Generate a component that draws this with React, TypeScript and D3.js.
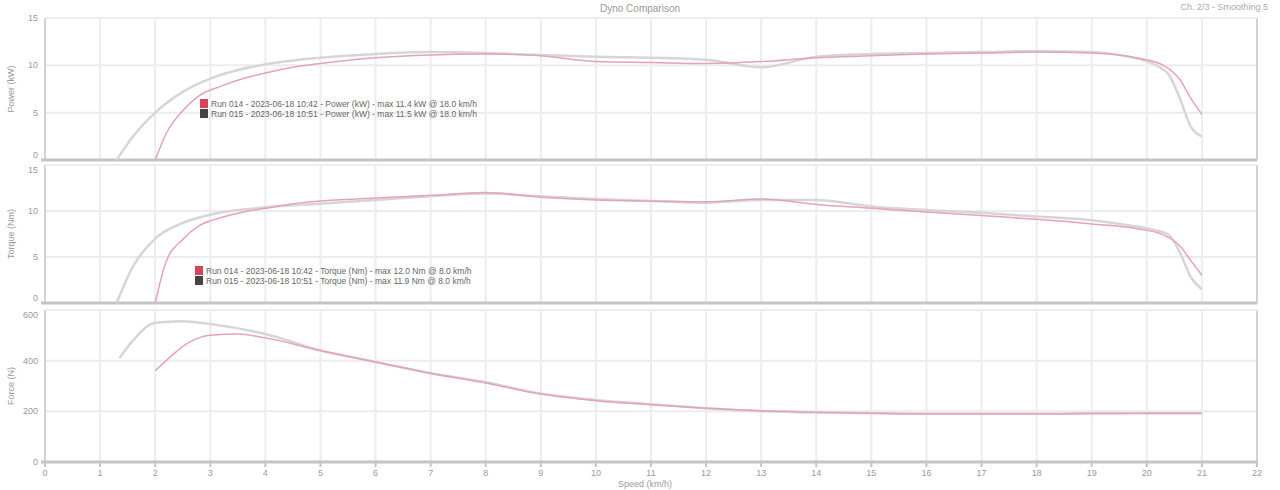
import React from 'react'
import * as d3 from 'd3'

const W = 1280
const H = 490

// x axis: road speed, km/h
const speedTicks = d3.range(0, 23, 1)

// run A (red)
const runASpeed = [2.0, 2.2, 2.5, 2.8, 3.2, 3.6, 4, 4.5, 5, 6, 7, 8, 9, 10, 11, 12, 13, 14, 15, 16, 17, 18, 19, 19.8, 20.3, 20.6, 20.8, 21.0]
const runAPower = [0, 2.8, 5.2, 6.8, 7.8, 8.6, 9.2, 9.8, 10.2, 10.8, 11.1, 11.2, 11.0, 10.4, 10.3, 10.2, 10.4, 10.8, 11.0, 11.2, 11.3, 11.4, 11.3, 10.8, 10.0, 8.5, 6.5, 4.8]
const runATorque = [0, 4.5, 6.9, 8.4, 9.3, 9.9, 10.3, 10.8, 11.1, 11.4, 11.7, 12.0, 11.5, 11.2, 11.1, 11.0, 11.3, 10.7, 10.3, 9.9, 9.5, 9.1, 8.6, 8.1, 7.4, 6.2, 4.6, 3.0]
const runAForceSpeed = [2.0, 2.3, 2.6, 3.0, 3.5, 4, 5, 6, 7, 8, 9, 10, 11, 12, 13, 14, 15, 16, 17, 18, 19, 20, 21]
const runAForce = [360, 420, 470, 500, 505, 490, 440, 395, 350, 312, 268, 242, 226, 212, 202, 196, 193, 190, 190, 190, 191, 192, 192]

// run B (grey)
const runBSpeed = [1.3, 1.6, 2, 2.5, 3, 3.5, 4, 5, 6, 7, 8, 9, 10, 11, 12, 13, 14, 15, 16, 17, 18, 19, 19.6, 20.1, 20.4, 20.6, 20.8, 21.0]
const runBPower = [0, 2.5, 5, 7.2, 8.6, 9.5, 10.1, 10.8, 11.2, 11.4, 11.3, 11.1, 10.9, 10.8, 10.6, 9.8, 10.9, 11.2, 11.3, 11.4, 11.5, 11.4, 11.0, 10.2, 9.0, 6.5, 3.5, 2.5]
const runBTorque = [0, 4, 7, 8.7, 9.6, 10.1, 10.4, 10.8, 11.2, 11.6, 11.9, 11.6, 11.3, 11.1, 10.9, 11.2, 11.2, 10.5, 10.1, 9.8, 9.4, 9.0, 8.5, 8.0, 7.4, 5.5, 2.8, 1.5]
const runBForceSpeed = [1.35, 1.6, 2, 2.5, 3, 4, 5, 6, 7, 8, 9, 10, 11, 12, 13, 14, 15, 16, 17, 18, 19, 20, 21]
const runBForce = [410, 480, 550, 556, 545, 505, 440, 395, 350, 315, 270, 245, 228, 212, 200, 195, 192, 190, 190, 190, 192, 192, 192]

const powerTicks = [0, 5, 10, 15]
const torqueTicks = [0, 5, 10, 15]
const forceTicks = [0, 200, 400, 600]

const legendPower = [
  'Run 014 - 2023-06-18 10:42 - Power (kW) - max 11.4 kW @ 18.0 km/h',
  'Run 015 - 2023-06-18 10:51 - Power (kW) - max 11.5 kW @ 18.0 km/h',
]
const legendTorque = [
  'Run 014 - 2023-06-18 10:42 - Torque (Nm) - max 12.0 Nm @ 8.0 km/h',
  'Run 015 - 2023-06-18 10:51 - Torque (Nm) - max 11.9 Nm @ 8.0 km/h',
]

const RED = '#e6a3b0'
const GREY = '#d6d6d6'
const font = '"Liberation Sans", Arial, sans-serif'

const x = d3.scaleLinear().domain([0, 22]).range([45, 1257])

type Panel = {
  top: number
  bottom: number
  domain: [number, number]
  ticks: number[]
  label: string
  first: boolean
  last: boolean
}

const panels: Panel[] = [
  { top: 18, bottom: 160, domain: [0, 15], ticks: powerTicks, label: 'Power (kW)', first: true, last: false },
  { top: 165, bottom: 303, domain: [0, 15], ticks: torqueTicks, label: 'Torque (Nm)', first: false, last: false },
  { top: 310, bottom: 462, domain: [0, 600], ticks: forceTicks, label: 'Force (N)', first: false, last: true },
]

const toPts = (xs: number[], ys: number[]) => xs.map((s, i) => [s, ys[i]] as [number, number])

const PanelView = ({ p, series, legend, legendX, legendY }: {
  p: Panel
  series: { pts: [number, number][]; color: string; width: number }[]
  legend?: string[]
  legendX?: number
  legendY?: number
}) => {
  const y = d3.scaleLinear().domain(p.domain).range([p.bottom, p.top])
  const line = d3.line<[number, number]>().x(d => x(d[0])).y(d => y(d[1])).curve(d3.curveMonotoneX)
  const [lo, hi] = p.domain
  // keep the edge labels of stacked panels apart
  const labelY = (t: number) => {
    if (t === lo && !p.last) return y(t) - 2
    if (t === hi && !p.first) return y(t) + 8
    return y(t) + 3
  }
  return (
    <g>
      {speedTicks.map(t => (
        <line key={'v' + t} x1={x(t)} x2={x(t)} y1={p.top} y2={p.bottom} stroke="#ececec" strokeWidth={2} />
      ))}
      {p.ticks.map(t => (
        <g key={'h' + t}>
          <line x1={x(0)} x2={x(22)} y1={y(t)} y2={y(t)} stroke="#ececec" strokeWidth={2} />
          <text x={38} y={labelY(t)} fontSize={9} fill="#999" textAnchor="end" fontFamily={font}>{t}</text>
        </g>
      ))}
      <line x1={x(0)} x2={x(0)} y1={p.top} y2={p.bottom} stroke="#d2d2d2" strokeWidth={2} />
      <line x1={x(22)} x2={x(22)} y1={p.top} y2={p.bottom} stroke="#d2d2d2" strokeWidth={2} />
      <line x1={x(0) - 4} x2={x(22)} y1={p.bottom} y2={p.bottom} stroke="#c4c4c4" strokeWidth={3} />
      <line x1={x(0)} x2={x(22)} y1={p.top} y2={p.top} stroke="#ededed" strokeWidth={2} />
      {series.map((s, i) => (
        <path key={i} d={line(s.pts) ?? ''} fill="none" stroke={s.color} strokeWidth={s.width} />
      ))}
      <text transform={`translate(14,${(p.top + p.bottom) / 2}) rotate(-90)`} textAnchor="middle" fontSize={9} fill="#999" fontFamily={font}>
        {p.label}
      </text>
      {legend && legendX !== undefined && legendY !== undefined && legend.map((l, i) => (
        <g key={l}>
          <rect x={legendX} y={legendY + i * 10} width={8} height={9} fill={i === 0 ? '#d9435a' : '#444'} />
          <text x={legendX + 11} y={legendY + i * 10 + 8} fontSize={8.5} fill="#666" fontFamily={font}>{l}</text>
        </g>
      ))}
    </g>
  )
}

const App = () => {
  return (
    <svg width={W} height={H} style={{ position: 'absolute', left: 0, top: 0, background: '#fff' }}>
      <text x={640} y={12} textAnchor="middle" fontSize={10} fill="#999" fontFamily={font}>Dyno Comparison</text>
      <text x={1268} y={10} textAnchor="end" fontSize={9} fill="#aaa" fontFamily={font}>Ch. 2/3 - Smoothing 5</text>
      <PanelView
        p={panels[0]}
        series={[
          { pts: toPts(runBSpeed, runBPower), color: GREY, width: 2.5 },
          { pts: toPts(runASpeed, runAPower), color: RED, width: 1.5 },
        ]}
        legend={legendPower}
        legendX={200}
        legendY={99}
      />
      <PanelView
        p={panels[1]}
        series={[
          { pts: toPts(runBSpeed, runBTorque), color: GREY, width: 2.5 },
          { pts: toPts(runASpeed, runATorque), color: RED, width: 1.5 },
        ]}
        legend={legendTorque}
        legendX={195}
        legendY={266}
      />
      <PanelView
        p={panels[2]}
        series={[
          { pts: toPts(runBForceSpeed, runBForce), color: GREY, width: 2.5 },
          { pts: toPts(runAForceSpeed, runAForce), color: RED, width: 1.5 },
        ]}
      />
      {speedTicks.map(t => (
        <g key={'xt' + t}>
          <line x1={x(t)} x2={x(t)} y1={462} y2={467} stroke="#c4c4c4" strokeWidth={2} />
          <text x={x(t)} y={476} textAnchor="middle" fontSize={9} fill="#999" fontFamily={font}>{t}</text>
        </g>
      ))}
      <text x={645} y={487} textAnchor="middle" fontSize={9} fill="#999" fontFamily={font}>Speed (km/h)</text>
    </svg>
  )
}

export default App
